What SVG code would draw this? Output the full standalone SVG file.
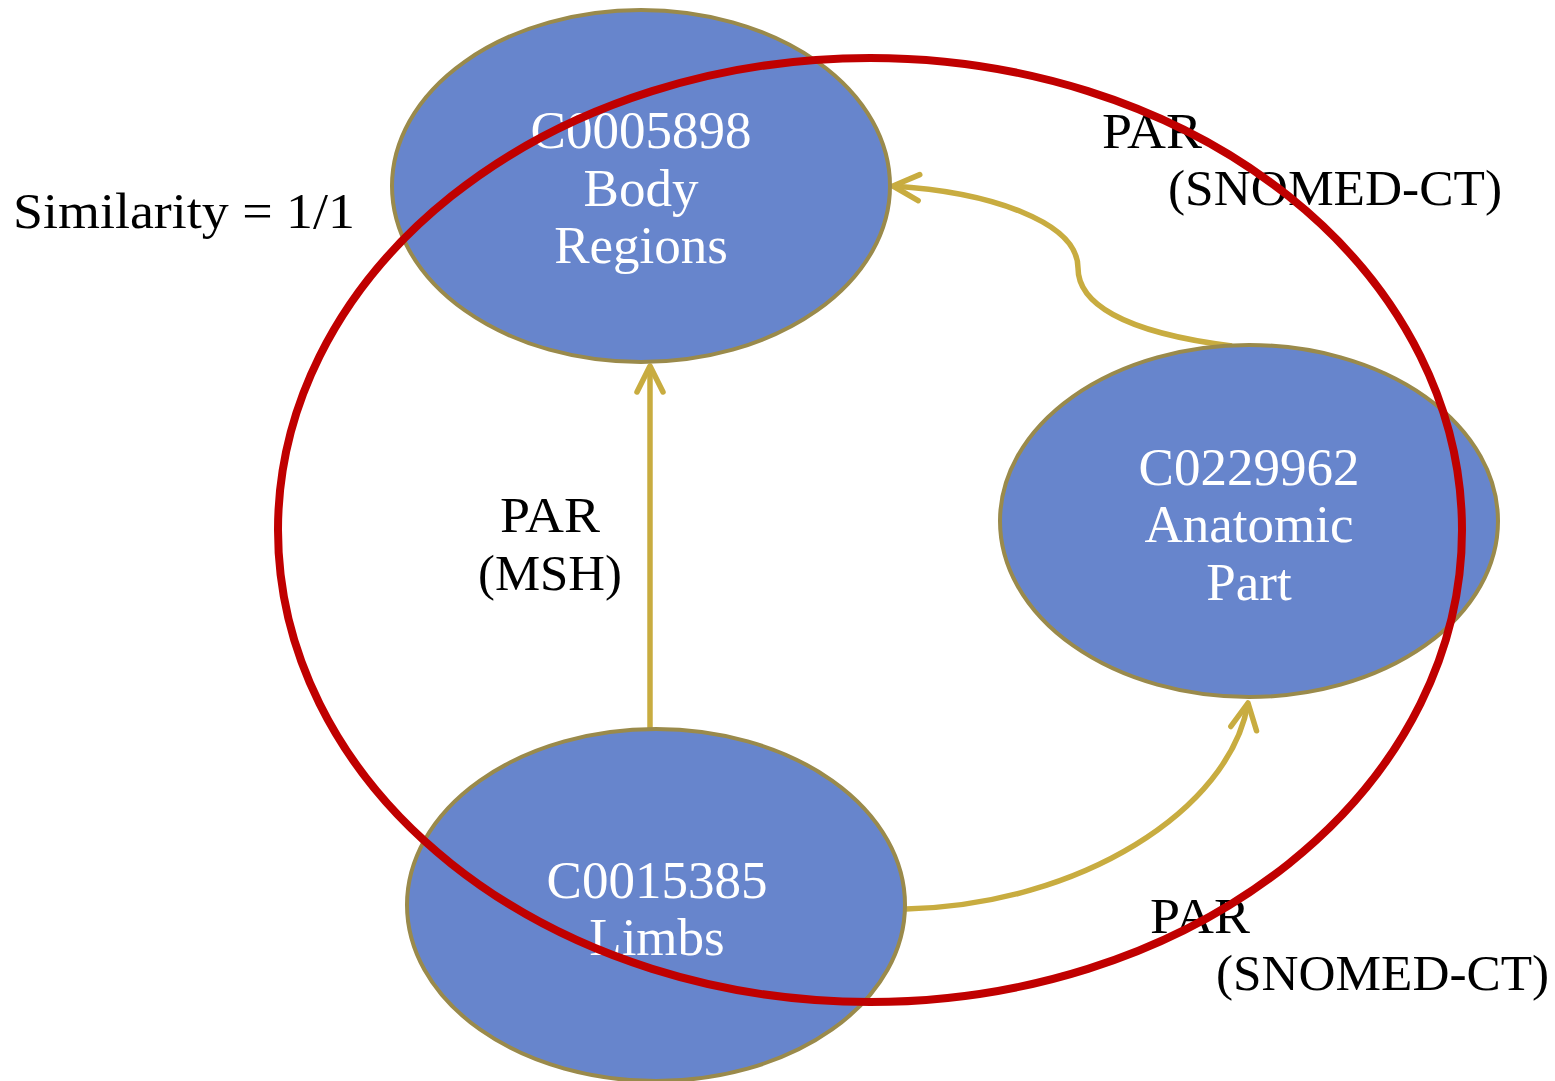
<svg xmlns="http://www.w3.org/2000/svg" width="1555" height="1081" viewBox="0 0 1555 1081">
  <style>
    .node ellipse { fill: #6785CC; stroke: #9A8A4B; stroke-width: 4; }
    .node text { fill: #FFFFFF; font-family: "Liberation Serif", "Times New Roman", serif; font-size: 53px; text-anchor: middle; }
    .edge { fill: none; stroke: #C8AC40; stroke-width: 5.5; }
    .label { fill: #000000; font-family: "Liberation Serif", "Times New Roman", serif; font-size: 51px; }
    .group-ring { fill: none; stroke: #C00000; stroke-width: 8; }
  </style>
  <defs>
    <marker id="chevron" markerUnits="userSpaceOnUse" viewBox="-32 -18 36 36" markerWidth="36" markerHeight="36" refX="0" refY="0" orient="auto">
      <path d="M-26,-13 L0,0 L-26,13" fill="none" stroke="#C8AC40" stroke-width="5.5" stroke-linecap="round" stroke-linejoin="round"/>
    </marker>
  </defs>
  <rect width="1555" height="1081" fill="#FFFFFF"/>

  <!-- connectors -->
  <g id="connectors">
    <path class="edge" d="M650,730 L650,366" marker-end="url(#chevron)"/>
    <path class="edge" d="M1232,346 C1120,332 1078,302 1078,268 C1078,222 990,192 893,186" marker-end="url(#chevron)"/>
    <path class="edge" d="M906,909 C1080,905 1230,810 1248,703" marker-end="url(#chevron)"/>
  </g>

  <!-- nodes -->
  <g id="node-C0005898" class="node">
    <ellipse cx="641" cy="186" rx="249" ry="176"/>
    <text x="641" y="148">C0005898</text>
    <text x="641" y="206">Body</text>
    <text x="641" y="263">Regions</text>
  </g>
  <g id="node-C0229962" class="node">
    <ellipse cx="1249" cy="521" rx="249" ry="176"/>
    <text x="1249" y="485">C0229962</text>
    <text x="1249" y="542">Anatomic</text>
    <text x="1249" y="600">Part</text>
  </g>
  <g id="node-C0015385" class="node">
    <ellipse cx="656" cy="905" rx="249" ry="176"/>
    <text x="657" y="898">C0015385</text>
    <text x="657" y="955">Limbs</text>
  </g>

  <!-- edge labels -->
  <g id="labels">
    <text class="label" x="500" y="532" textLength="100" lengthAdjust="spacingAndGlyphs">PAR</text>
    <text class="label" x="478" y="590" textLength="144" lengthAdjust="spacingAndGlyphs">(MSH)</text>
    <text class="label" x="1102" y="148" textLength="100" lengthAdjust="spacingAndGlyphs">PAR</text>
    <text class="label" x="1168" y="205" textLength="334" lengthAdjust="spacingAndGlyphs">(SNOMED-CT)</text>
    <text class="label" x="1150" y="933" textLength="100" lengthAdjust="spacingAndGlyphs">PAR</text>
    <text class="label" x="1216" y="990" textLength="333" lengthAdjust="spacingAndGlyphs">(SNOMED-CT)</text>
    <text class="label" x="13" y="228" textLength="342" lengthAdjust="spacingAndGlyphs">Similarity = 1/1</text>
  </g>

  <!-- grouping ring -->
  <ellipse id="similarity-ring" class="group-ring" cx="870" cy="530" rx="592" ry="472"/>
</svg>
